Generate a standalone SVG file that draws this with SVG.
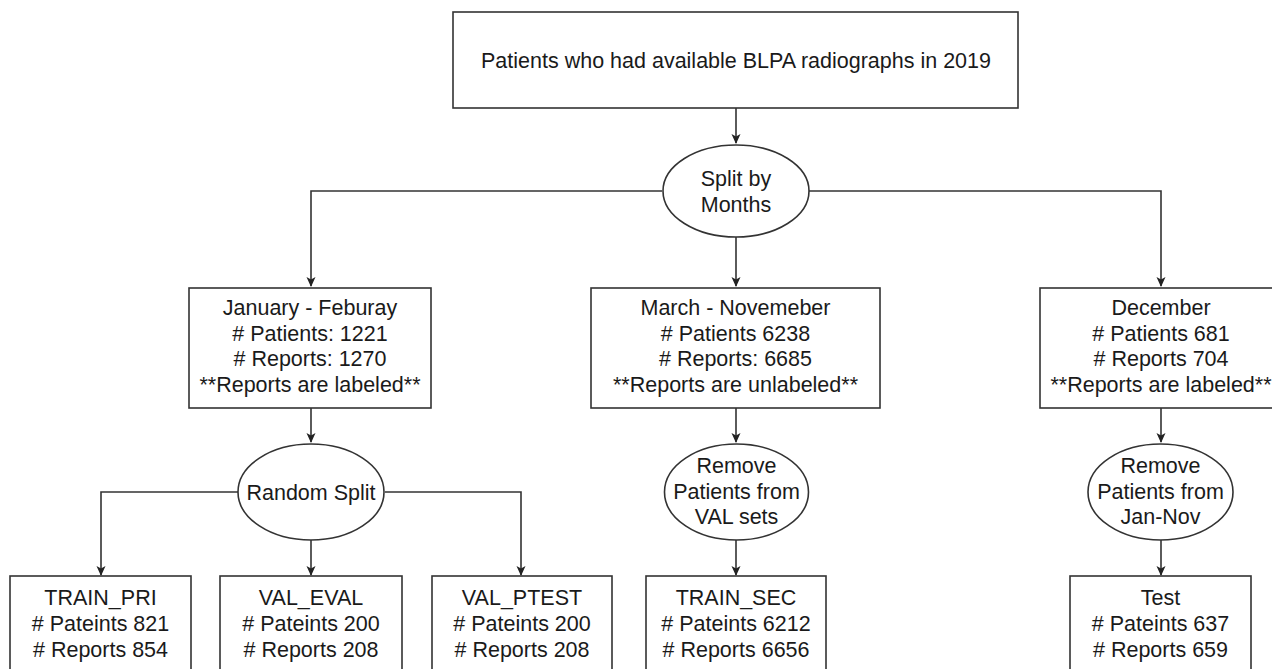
<svg xmlns="http://www.w3.org/2000/svg" width="1272" height="669" viewBox="0 0 1272 669">
<style>
.box{fill:#fff;stroke:#333;stroke-width:1.6}
.t{font-family:"Liberation Sans",Arial,sans-serif;font-size:21.5px;fill:#1a1a1a;text-anchor:middle}
.c{fill:none;stroke:#333;stroke-width:1.6}
</style>
<defs>
<marker id="ah" markerWidth="10" markerHeight="10" refX="9" refY="5" orient="auto" markerUnits="userSpaceOnUse">
<path d="M0,0.5 L10,5 L0,9.5 L2.5,5 Z" fill="#222"/>
</marker>
</defs>
<rect width="1272" height="669" fill="#fff"/>
<g id="connectors">
<path class="c" d="M736,108 V143" marker-end="url(#ah)"/>
<path class="c" d="M662,191 H311 V286" marker-end="url(#ah)"/>
<path class="c" d="M736,237 V286" marker-end="url(#ah)"/>
<path class="c" d="M809,191 H1161 V286" marker-end="url(#ah)"/>
<path class="c" d="M311,408 V442" marker-end="url(#ah)"/>
<path class="c" d="M736,408 V442" marker-end="url(#ah)"/>
<path class="c" d="M1161,408 V442" marker-end="url(#ah)"/>
<path class="c" d="M238,492 H101 V575" marker-end="url(#ah)"/>
<path class="c" d="M311,540 V575" marker-end="url(#ah)"/>
<path class="c" d="M385,492 H521 V575" marker-end="url(#ah)"/>
<path class="c" d="M736,540 V575" marker-end="url(#ah)"/>
<path class="c" d="M1161,540 V575" marker-end="url(#ah)"/>
</g>
<g id="root">
<rect class="box" x="453" y="12" width="565" height="96"/>
<text class="t" x="736" y="68">Patients who had available BLPA radiographs in 2019</text>
</g>
<g id="split-months">
<ellipse class="box" cx="736" cy="191" rx="73" ry="46"/>
<text class="t" x="736" y="186">Split by</text>
<text class="t" x="736" y="211.7">Months</text>
</g>
<g id="jan-feb">
<rect class="box" x="189" y="288" width="242" height="120"/>
<text class="t" x="310" y="315">January - Feburay</text>
<text class="t" x="310" y="340.7"># Patients: 1221</text>
<text class="t" x="310" y="366.4"># Reports: 1270</text>
<text class="t" x="310" y="392.1">**Reports are labeled**</text>
</g>
<g id="mar-nov">
<rect class="box" x="591" y="288" width="289" height="120"/>
<text class="t" x="735.5" y="315">March - Novemeber</text>
<text class="t" x="735.5" y="340.7"># Patients 6238</text>
<text class="t" x="735.5" y="366.4"># Reports: 6685</text>
<text class="t" x="735.5" y="392.1">**Reports are unlabeled**</text>
</g>
<g id="december">
<rect class="box" x="1040" y="288" width="242" height="120"/>
<text class="t" x="1161" y="315">December</text>
<text class="t" x="1161" y="340.7"># Patients 681</text>
<text class="t" x="1161" y="366.4"># Reports 704</text>
<text class="t" x="1161" y="392.1">**Reports are labeled**</text>
</g>
<g id="random-split">
<ellipse class="box" cx="311" cy="492" rx="73" ry="48"/>
<text class="t" x="311" y="500">Random Split</text>
</g>
<g id="remove-val">
<ellipse class="box" cx="736.5" cy="492" rx="72" ry="48"/>
<text class="t" x="736.5" y="473">Remove</text>
<text class="t" x="736.5" y="498.5">Patients from</text>
<text class="t" x="736.5" y="524">VAL sets</text>
</g>
<g id="remove-jannov">
<ellipse class="box" cx="1160.5" cy="492" rx="72.5" ry="48"/>
<text class="t" x="1160.5" y="473">Remove</text>
<text class="t" x="1160.5" y="498.5">Patients from</text>
<text class="t" x="1160.5" y="524">Jan-Nov</text>
</g>
<g id="train-pri">
<rect class="box" x="10" y="576" width="181" height="120"/>
<text class="t" x="100.5" y="605">TRAIN_PRI</text>
<text class="t" x="100.5" y="631"># Pateints 821</text>
<text class="t" x="100.5" y="656.5"># Reports 854</text>
</g>
<g id="val-eval">
<rect class="box" x="220" y="576" width="182" height="120"/>
<text class="t" x="311" y="605">VAL_EVAL</text>
<text class="t" x="311" y="631"># Pateints 200</text>
<text class="t" x="311" y="656.5"># Reports 208</text>
</g>
<g id="val-ptest">
<rect class="box" x="432" y="576" width="180" height="120"/>
<text class="t" x="522" y="605">VAL_PTEST</text>
<text class="t" x="522" y="631"># Pateints 200</text>
<text class="t" x="522" y="656.5"># Reports 208</text>
</g>
<g id="train-sec">
<rect class="box" x="646" y="576" width="180" height="120"/>
<text class="t" x="736" y="605">TRAIN_SEC</text>
<text class="t" x="736" y="631"># Pateints 6212</text>
<text class="t" x="736" y="656.5"># Reports 6656</text>
</g>
<g id="test">
<rect class="box" x="1070" y="576" width="181" height="120"/>
<text class="t" x="1160.5" y="605">Test</text>
<text class="t" x="1160.5" y="631"># Pateints 637</text>
<text class="t" x="1160.5" y="656.5"># Reports 659</text>
</g>
</svg>
